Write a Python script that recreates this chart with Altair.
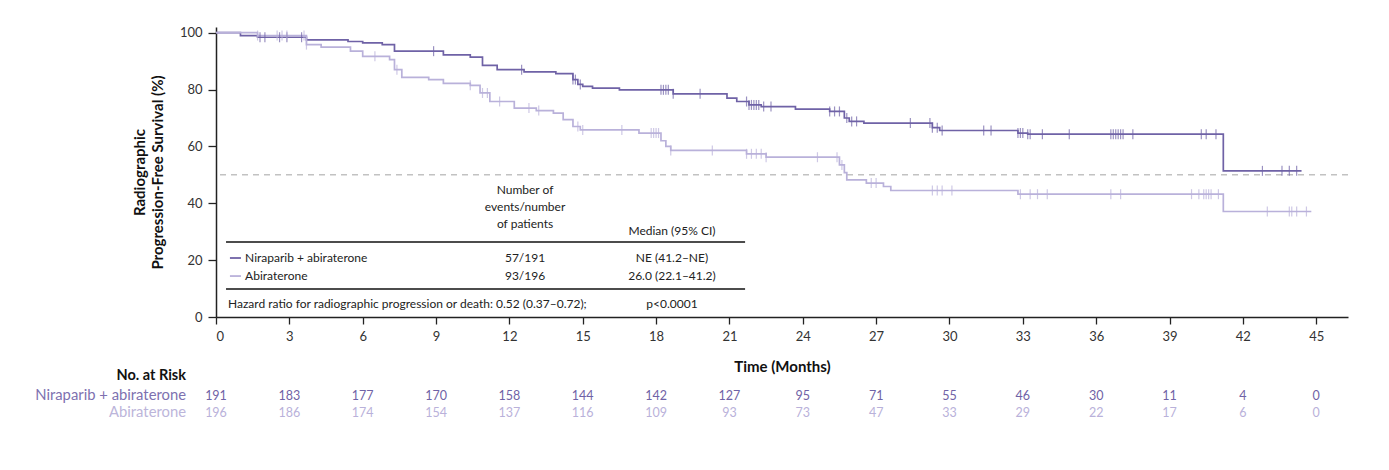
import altair as alt
import pandas as pd

# Kaplan-Meier step points (month, % progression-free)
nira_month = [0, 1.0, 1.7, 3.7, 5.4, 6.0, 6.8, 7.3, 9.3, 10.4, 10.9, 11.5, 12.6, 13.9, 14.6,
              14.8, 15.0, 15.4, 16.5, 18.7, 20.9, 21.3, 21.8, 22.3, 23.7, 25.1, 25.7, 25.9,
              26.5, 29.3, 29.6, 32.8, 33.2, 41.2, 44.4]
nira_surv = [100, 99.0, 98.4, 97.5, 96.9, 96.4, 95.8, 93.5, 92.2, 91.4, 88.5, 87.0, 86.2, 85.6, 83.5,
             81.8, 81.1, 80.5, 79.9, 78.5, 77.0, 75.8, 74.6, 74.0, 73.1, 72.3, 70.0, 68.8,
             68.2, 66.6, 65.6, 64.7, 64.3, 51.4, 51.4]

abi_month = [0, 1.7, 3.7, 4.3, 5.5, 6.0, 7.1, 7.3, 7.6, 8.7, 9.3, 10.4, 10.8, 11.2, 12.2, 13.1,
             13.8, 14.2, 14.6, 14.9, 17.3, 18.2, 18.4, 18.6, 21.7, 22.5, 25.5, 25.7, 25.8, 26.6,
             27.3, 27.6, 32.8, 41.2, 44.8]
abi_surv = [100, 99.0, 95.8, 94.9, 93.5, 91.7, 90.5, 87.0, 84.3, 83.5, 82.2, 81.5, 78.8, 75.8, 73.5, 72.6,
            71.7, 69.4, 67.0, 65.8, 64.7, 62.0, 60.0, 58.6, 57.4, 56.2, 53.5, 50.8, 48.2, 47.1,
            45.9, 44.5, 43.2, 37.1, 37.1]

# Censoring times (months)
nira_censor = [1.8, 2.0, 2.6, 2.9, 3.5, 8.9, 12.5, 14.6, 14.7, 14.9, 18.2, 18.3, 18.4, 18.5, 18.7,
               19.8, 21.7, 21.8, 21.9, 22.0, 22.1, 22.2, 22.4, 22.7, 25.1, 25.3, 25.5, 25.8, 26.0,
               26.2, 28.4, 29.2, 29.3, 29.5, 29.7, 31.4, 31.7, 32.8, 32.9, 33.0, 33.2, 33.3, 33.8,
               34.9, 36.6, 36.7, 36.8, 36.9, 37.0, 37.1, 37.5, 40.3, 40.5, 40.9, 42.8, 43.6, 43.9, 44.2]
abi_censor = [1.7, 2.5, 2.7, 2.9, 3.6, 3.7, 6.5, 7.4, 10.4, 10.9, 11.1, 11.6, 12.8, 13.2, 14.8,
              15.0, 16.6, 17.8, 17.9, 18.0, 18.1, 18.6, 20.3, 21.7, 21.9, 22.1, 22.3, 22.5, 24.6,
              25.4, 25.6, 26.8, 27.0, 29.3, 29.5, 29.7, 30.1, 32.9, 33.3, 33.6, 34.0, 36.6, 37.0,
              39.9, 40.2, 40.4, 40.5, 40.6, 40.7, 41.0, 43.0, 43.9, 44.0, 44.2, 44.6]

# Number at risk
risk_month = [0, 3, 6, 9, 12, 15, 18, 21, 24, 27, 30, 33, 36, 39, 42, 45]
risk_nira = [191, 183, 177, 170, 158, 144, 142, 127, 95, 71, 55, 46, 30, 11, 4, 0]
risk_abi = [196, 186, 174, 154, 137, 116, 109, 93, 73, 47, 33, 29, 22, 17, 6, 0]

arms = ["Niraparib + abiraterone", "Abiraterone"]
colors = ["#6f62a6", "#b9b1da"]
risk_colors = ["#7d71b0", "#bcb5da"]
FONT = "Lato"


def surv_at(times, survs, t):
    v = survs[0]
    for tt, ss in zip(times, survs):
        if tt <= t:
            v = ss
        else:
            break
    return v


curves = pd.DataFrame(
    [{"arm": arms[0], "month": m, "surv": s} for m, s in zip(nira_month, nira_surv)]
    + [{"arm": arms[1], "month": m, "surv": s} for m, s in zip(abi_month, abi_surv)]
)
censors = pd.DataFrame(
    [{"arm": arms[0], "month": t, "surv": surv_at(nira_month, nira_surv, t)} for t in nira_censor]
    + [{"arm": arms[1], "month": t, "surv": surv_at(abi_month, abi_surv, t)} for t in abi_censor]
)

x_scale = alt.Scale(domain=[0, 46.3], nice=False, zero=False)
y_scale = alt.Scale(domain=[0, 102], nice=False)
color_scale = alt.Scale(domain=arms, range=colors)

x_axis = alt.Axis(values=risk_month, title="Time (Months)", grid=False, tickSize=7,
                  labelPadding=6, titlePadding=16, labelFontSize=13, titleFontSize=15,
                  titleFontWeight="bold", labelColor="#333333", titleColor="#111111",
                  domainColor="#222222", tickColor="#222222", domainWidth=1.5, tickWidth=1.3,
                  labelFont=FONT, titleFont=FONT)
y_axis = alt.Axis(values=[0, 20, 40, 60, 80, 100],
                  title=["Radiographic", "Progression-Free Survival (%)"], grid=False,
                  tickSize=8, labelPadding=6, titlePadding=14, labelFontSize=13,
                  titleFontSize=15, titleFontWeight="bold", titleLineHeight=18,
                  labelColor="#333333", titleColor="#111111", domainColor="#222222",
                  tickColor="#222222", domainWidth=1.5, tickWidth=1.3,
                  labelFont=FONT, titleFont=FONT)

base = alt.Chart(curves)

median_ref = alt.Chart(pd.DataFrame({"y": [50]})).mark_rule(
    color="#c2c2c2", strokeDash=[6, 5], strokeWidth=1.5
).encode(y=alt.Y("y:Q", scale=y_scale, axis=y_axis))

lines = base.mark_line(interpolate="step-after", strokeWidth=1.7).encode(
    x=alt.X("month:Q", scale=x_scale, axis=x_axis),
    y=alt.Y("surv:Q", scale=y_scale, axis=y_axis),
    color=alt.Color("arm:N", scale=color_scale, legend=None),
    detail="arm:N",
)

ticks = alt.Chart(censors).mark_tick(orient="vertical", size=10, thickness=1.2).encode(
    x=alt.X("month:Q", scale=x_scale),
    y=alt.Y("surv:Q", scale=y_scale),
    color=alt.Color("arm:N", scale=color_scale, legend=None),
)

# Summary table drawn inside the plot area
table_center = pd.DataFrame([
    {"t": "Number of", "m": 12.64, "p": 44.7},
    {"t": "events/number", "m": 12.64, "p": 38.7},
    {"t": "of patients", "m": 12.64, "p": 32.7},
    {"t": "Median (95% CI)", "m": 18.65, "p": 30.2},
    {"t": "57/191", "m": 12.64, "p": 20.75},
    {"t": "NE (41.2\u2013NE)", "m": 18.65, "p": 20.75},
    {"t": "93/196", "m": 12.64, "p": 14.4},
    {"t": "26.0 (22.1\u201341.2)", "m": 18.65, "p": 14.4},
    {"t": "p<0.0001", "m": 18.65, "p": 4.6},
])
table_left = pd.DataFrame([
    {"t": arms[0], "m": 1.19, "p": 20.75},
    {"t": arms[1], "m": 1.19, "p": 14.4},
    {"t": "Hazard ratio for radiographic progression or death: 0.52 (0.37\u20130.72);",
     "m": 0.49, "p": 4.6},
])
table_rules = pd.DataFrame([
    {"m": 0.41, "m2": 21.64, "p": 26.4},
    {"m": 0.41, "m2": 21.64, "p": 9.85},
])
swatches = pd.DataFrame([
    {"arm": arms[0], "m": 0.57, "m2": 1.02, "p": 20.75},
    {"arm": arms[1], "m": 0.57, "m2": 1.02, "p": 14.4},
])

txt_c = alt.Chart(table_center).mark_text(
    font=FONT, fontSize=12, color="#222222", align="center", baseline="middle"
).encode(x=alt.X("m:Q", scale=x_scale), y=alt.Y("p:Q", scale=y_scale), text="t:N")
txt_l = alt.Chart(table_left).mark_text(
    font=FONT, fontSize=12, color="#222222", align="left", baseline="middle"
).encode(x=alt.X("m:Q", scale=x_scale), y=alt.Y("p:Q", scale=y_scale), text="t:N")
rules = alt.Chart(table_rules).mark_rule(color="#111111", strokeWidth=1.5).encode(
    x=alt.X("m:Q", scale=x_scale), x2="m2:Q", y=alt.Y("p:Q", scale=y_scale))
sw = alt.Chart(swatches).mark_rule(strokeWidth=1.8).encode(
    x=alt.X("m:Q", scale=x_scale), x2="m2:Q", y=alt.Y("p:Q", scale=y_scale),
    color=alt.Color("arm:N", scale=color_scale, legend=None))

# Number-at-risk table below the time axis
risk = pd.DataFrame(
    [{"arm": arms[0], "month": m, "n": n} for m, n in zip(risk_month, risk_nira)]
    + [{"arm": arms[1], "month": m, "n": n} for m, n in zip(risk_month, risk_abi)]
)
risk_scale = alt.Scale(domain=arms, range=risk_colors)
risk_row1 = alt.Chart(risk).transform_filter(alt.datum.arm == arms[0]).mark_text(
    font=FONT, fontSize=12.5, baseline="middle").encode(
    x=alt.X("month:Q", scale=x_scale), y=alt.value(369), text="n:Q",
    color=alt.Color("arm:N", scale=risk_scale, legend=None))
risk_row2 = alt.Chart(risk).transform_filter(alt.datum.arm == arms[1]).mark_text(
    font=FONT, fontSize=12.5, baseline="middle").encode(
    x=alt.X("month:Q", scale=x_scale), y=alt.value(386), text="n:Q",
    color=alt.Color("arm:N", scale=risk_scale, legend=None))

risk_labels = pd.DataFrame([
    {"t": "No. at Risk", "row": 0},
    {"t": arms[0], "row": 1},
    {"t": arms[1], "row": 2},
])
lab_head = alt.Chart(risk_labels).transform_filter(alt.datum.row == 0).mark_text(
    font=FONT, fontSize=14.5, fontWeight="bold", color="#111111", align="right",
    baseline="middle").encode(x=alt.value(-30), y=alt.value(349), text="t:N")
lab_1 = alt.Chart(risk_labels).transform_filter(alt.datum.row == 1).mark_text(
    font=FONT, fontSize=14.8, color=risk_colors[0], align="right",
    baseline="middle").encode(x=alt.value(-30), y=alt.value(369), text="t:N")
lab_2 = alt.Chart(risk_labels).transform_filter(alt.datum.row == 2).mark_text(
    font=FONT, fontSize=14.8, color=risk_colors[1], align="right",
    baseline="middle").encode(x=alt.value(-30), y=alt.value(386), text="t:N")

chart = alt.layer(
    median_ref, lines, ticks, rules, sw, txt_c, txt_l,
    risk_row1, risk_row2, lab_head, lab_1, lab_2,
).properties(
    width=1132, height=290,
    autosize=alt.AutoSizeParams(type="none"),
    padding={"left": 216, "top": 27, "right": 41, "bottom": 153},
    background="white",
).configure_view(stroke=None)

chart.save("out.html", embed_options={"renderer": "svg", "actions": False})
